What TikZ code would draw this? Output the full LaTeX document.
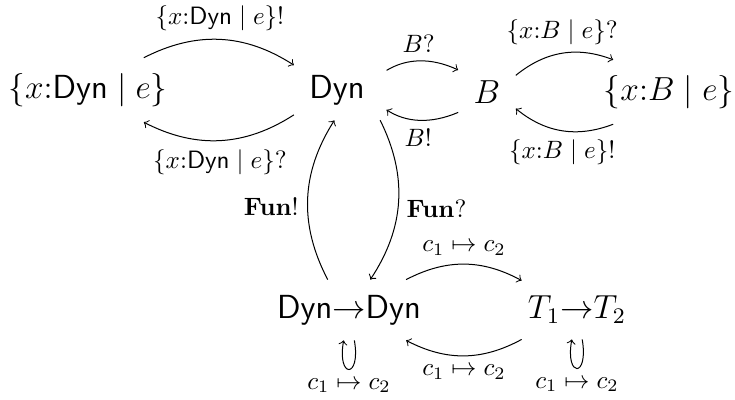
\documentclass[tikz,border=0pt]{standalone}
\usepackage{amsmath}
\usepackage{amssymb}
\usetikzlibrary{positioning,arrows}
\newcommand{\Dyn}{\mathsf{Dyn}}
\newcommand{\tyt}[1]{\scalebox{1.108}{#1}}
\tikzset{
  >=to,
  every node/.style={font=\normalsize},
  % --- nodes
  ty/.style  = {font=\large, inner sep=6pt},
  % --- edges
  e/.style   = {->, draw=black},
  lp/.style  = {e, min distance=5.5mm},
}
\begin{document}
\begin{tikzpicture}[x=0.014cm,y=0.014cm]
  \useasboundingbox (0,0) rectangle (735,-400);

  \node[ty] (rdyn) at (88,-90)  {\tyt{$\{x{:}\Dyn \mid e\}$}};
  \node[ty] (dyn)  at (337,-90) {\tyt{$\Dyn$}};
  \node[ty] (b)    at (487,-92) {\tyt{$B$}};
  \node[ty] (rb)   at (669,-92) {\tyt{$\{x{:}B \mid e\}$}};
  \node[ty] (fd)   at (349,-310) {\tyt{$\Dyn{\to}\Dyn$}};
  \node[ty] (ft)   at (577,-310) {\tyt{$T_1{\to}T_2$}};

  \draw[e] (rdyn) to[bend left=30] node[above] {$\{x{:}\Dyn \mid e\}!$} (dyn);
  \draw[e] (dyn) to[bend left=30] node[below] {$\{x{:}\Dyn \mid e\}?$} (rdyn);
  \draw[e, shorten <=3pt] (dyn.20) to[bend left=28] node[above] {$B?$} (b);
  \draw[e, shorten >=3pt] (b) to[bend left=28] node[below] {$B!$} (dyn.-20);
  \draw[e] (b) to[bend left=30] node[above] {$\{x{:}B \mid e\}?$} (rb);
  \draw[e] (rb) to[bend left=30] node[below] {$\{x{:}B \mid e\}!$} (b);

  \draw[e] (fd.125) to[bend left=30] node[left, pos=0.45] {$\mathbf{Fun}!$} (dyn.-95);
  \draw[e] (dyn.-35) to[bend left=30] node[right, pos=0.55] {$\mathbf{Fun}?$} (fd.55);

  \draw[e] (fd) to[bend left=28] node[above] {$c_1 \mapsto c_2$} (ft);
  \draw[e] (ft) to[bend left=28] node[below] {$c_1 \mapsto c_2$} (fd);

  \draw[lp] (fd) to[out=-80,in=-100] node[below] {$c_1 \mapsto c_2$} (fd);
  \draw[lp] (ft) to[out=-80,in=-100] node[below] {$c_1 \mapsto c_2$} (ft);
\end{tikzpicture}
\end{document}
